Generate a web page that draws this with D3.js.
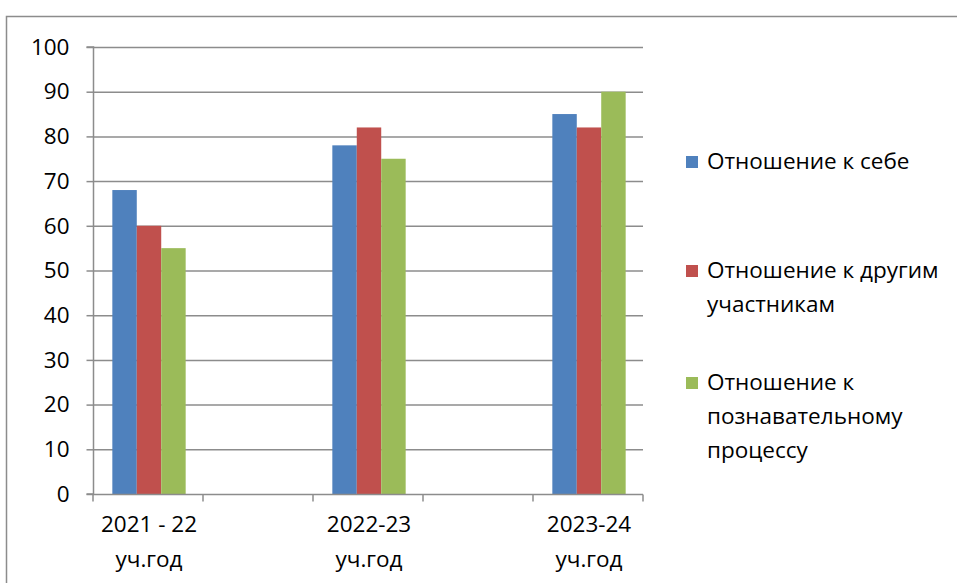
<!DOCTYPE html>
<html><head><meta charset="utf-8">
<script src="https://cdn.jsdelivr.net/npm/d3@7"></script>
<style>html,body{margin:0;padding:0;background:#fff;}svg{display:block;}</style>
</head><body>
<svg id="chart" width="957" height="583"></svg>
<script>
const categories = ["2021 - 22|уч.год", "gap1", "2022-23|уч.год", "gap2", "2023-24|уч.год"];
const seriesNames = ["Отношение к себе", "Отношение к другим|участникам", "Отношение к|познавательному|процессу"];
const colors = ["#4F81BD", "#C0504D", "#9BBB59"];
const selfValues   = [68, null, 78, null, 85];
const othersValues = [60, null, 82, null, 82];
const processValues= [55, null, 75, null, 90];
const yTicks = [0,10,20,30,40,50,60,70,80,90,100];

const series = [selfValues, othersValues, processValues];
const svg = d3.select("#chart");
const font = "'Open Sans', sans-serif";
const fs = 22.5;
const grid = "#8c8c8c";

svg.append("rect").attr("x",6.5).attr("y",16.5).attr("width",1000).attr("height",1000)
  .attr("fill","none").attr("stroke",grid).attr("stroke-width",1.5);

const pL = 93, pR = 643, pT = 47, pB = 494;
const x = d3.scaleBand().domain(categories).range([pL,pR]).paddingInner(0).paddingOuter(0);
const y = d3.scaleLinear().domain([0,100]).range([pB, pT]);
const bw = x.bandwidth()/4.5;

// gridlines
svg.append("g").selectAll("line").data(yTicks.filter(d=>d>0)).join("line")
  .attr("x1",pL).attr("x2",pR).attr("y1",d=>y(d)+0.5).attr("y2",d=>y(d)+0.5)
  .attr("stroke",grid).attr("stroke-width",1.5);

// bars
series.forEach((vals,i)=>{
  svg.append("g").selectAll("rect").data(categories.map((c,j)=>({c,v:vals[j]})).filter(d=>d.v!=null)).join("rect")
    .attr("x",d=>x(d.c)+bw*0.75+i*bw+1).attr("width",bw)
    .attr("y",d=>y(d.v)).attr("height",d=>y(0)-y(d.v))
    .attr("fill",colors[i]);
});

// y axis
const yAxis = svg.append("g").attr("transform",`translate(${pL+0.5},0)`)
  .call(d3.axisLeft(y).tickValues(yTicks).tickSize(7).tickPadding(17).tickFormat(d3.format("d")));
yAxis.select(".domain").attr("stroke",grid).attr("stroke-width",1.5).attr("d",`M-7,${pT}H0V${pB}H-7`);
yAxis.selectAll(".tick line").attr("stroke",grid).attr("stroke-width",1.5);
yAxis.selectAll("text").attr("font-family",font).attr("font-size",fs).attr("fill","#000");

// x axis
const xAxisG = svg.append("g").attr("transform",`translate(0,${pB+0.5})`);
xAxisG.append("line").attr("x1",pL).attr("x2",pR).attr("stroke",grid).attr("stroke-width",1.5);
const bounds = categories.map(c=>x(c)).concat([pR]);
xAxisG.selectAll("line.t").data(bounds).join("line").attr("class","t")
  .attr("x1",d=>d).attr("x2",d=>d).attr("y1",0).attr("y2",7).attr("stroke",grid).attr("stroke-width",1.5);
categories.forEach(c=>{
  if(c.startsWith("gap")) return;
  const lines = c.split("|");
  const t = svg.append("text").attr("font-family",font).attr("font-size",fs).attr("text-anchor","middle").attr("fill","#000");
  lines.forEach((l,k)=>t.append("tspan").attr("x",x(c)+x.bandwidth()/2+1).attr("y",532+k*35).text(l));
});

// legend
const legY = [156, 265, 377];
seriesNames.forEach((n,i)=>{
  svg.append("rect").attr("x",686).attr("y",legY[i]).attr("width",12).attr("height",12).attr("fill",colors[i]);
  const t = svg.append("text").attr("font-family",font).attr("font-size",fs).attr("fill","#000");
  n.split("|").forEach((l,k)=>t.append("tspan").attr("x",707).attr("y",legY[i]+13+k*34).text(l));
});
</script>
</body></html>
